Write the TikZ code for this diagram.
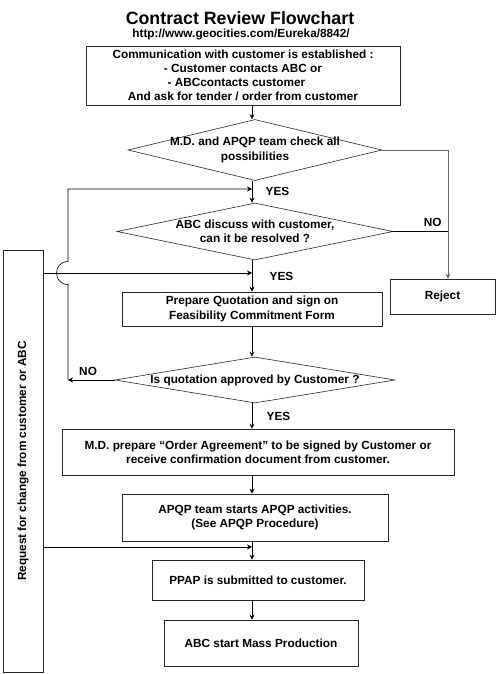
\documentclass[tikz,border=0pt]{standalone}
\usepackage{fontspec}
\setmainfont{Liberation Sans}
\usetikzlibrary{shapes.geometric,arrows.meta}

\begin{document}
\begin{tikzpicture}[x=1pt,y=-1pt,
  every node/.style={font=\fontsize{11.8}{14.2}\selectfont\bfseries},
  box/.style={draw=black!85,line width=0.6pt,align=center,inner sep=0pt},
  decision/.style={draw=black!85,line width=0.6pt,diamond,inner sep=0pt},
  arr/.style={-{Stealth[length=5pt,width=5pt]},line width=0.6pt},
  line/.style={line width=0.6pt,black!60}]
\useasboundingbox (0,0) rectangle (498,674);
% title
\node[font=\fontsize{17.8}{20}\selectfont\bfseries] (title) at (240,18) {Contract Review Flowchart};
\node (url) at (241,34) {http://www.geocities.com/Eureka/8842/};
% boxes and decisions
\node[box,minimum width=314pt,minimum height=59pt] (comm) at (243,75.5)
  {Communication with customer is established :\\- Customer contacts ABC or\\- ABCcontacts customer\hphantom{xx}\\And ask for tender / order from customer};
\node[decision,minimum width=254pt,minimum height=61pt,
  label={[align=center]center:{M.D. and APQP team check all\\possibilities}}] (d1) at (255,150) {};
\node[decision,minimum width=276pt,minimum height=57pt,
  label={[align=center]center:{ABC discuss with customer,\\can it be resolved ?}}] (d2) at (255,231.5) {};
\node[box,minimum width=260pt,minimum height=34pt] (quote) at (252,309)
  {Prepare Quotation and sign on\\Feasibility Commitment Form};
\node[decision,minimum width=280pt,minimum height=46pt,
  label={center:Is quotation approved by Customer ?}] (d3) at (255,380) {};
\node[box,minimum width=392pt,minimum height=46pt] (order) at (258,452)
  {M.D. prepare ``Order Agreement'' to be signed by Customer or\\receive confirmation document from customer.};
\node[box,minimum width=266pt,minimum height=47pt] (apqp) at (255,517.5)
  {APQP team starts APQP activities.\\(See APQP Procedure)};
\node[box,minimum width=212pt,minimum height=40pt] (ppap) at (258,580) {PPAP is submitted to customer.};
\node[box,minimum width=194pt,minimum height=46pt] (mass) at (261,643) {ABC start Mass Production};
\node[box,minimum width=105pt,minimum height=35pt] (rej) at (442.5,296.5) {Reject};
\node[box,minimum width=40pt,minimum height=422pt,
  label={[rotate=90]center:Request for change from customer or ABC}] (req) at (23,461) {};
% helper points
\coordinate (spine) at (252,0);
\coordinate (nox) at (448,0);
\coordinate (loopx) at (68,0);
\coordinate (j1) at (252,189);
\coordinate (j2) at (252,273);
\coordinate (j3) at (252,547);
\coordinate (hop) at (68,273);
% main flow
\draw[arr] (comm.south -| spine) -- (d1.north -| spine);
\draw[arr] (d1.south -| spine) -- node[right=10pt] {YES} (d2.north -| spine);
\draw[arr] (d2.south -| spine) -- node[right=14pt] {YES} (quote.north -| spine);
\draw[arr] (quote.south -| spine) -- (d3.north -| spine);
\draw[arr] (d3.south -| spine) -- node[right=11pt] {YES} (order.north -| spine);
\draw[arr] (order.south -| spine) -- (apqp.north -| spine);
\draw[arr] (apqp.south -| spine) -- (ppap.north -| spine);
\draw[arr] (ppap.south -| spine) -- (mass.north -| spine);
% NO to reject
\draw[line] (d1.east) -- (d1.east -| nox);
\draw[arr,line] (d1.east -| nox) -- (rej.north -| nox);
\draw[line width=0.6pt] (d2.east) -- node[pos=0.72,above=1pt] {NO} (d2.east -| nox);
% NO back to discussion
\draw[arr] (d3.west) -- node[pos=0.57,above=1pt] {NO} (d3.west -| loopx);
\draw[arr] (d3.west -| loopx) -- ([yshift=-11.5pt]hop)
  .. controls +(-15.3pt,0pt) and +(-15.3pt,0pt) .. ([yshift=11.5pt]hop)
  -- (loopx |- j1) -- (j1);
% requests for change
\draw[arr] (req.east |- j2) -- (j2);
\draw[arr] (req.east |- j3) -- (j3);
\end{tikzpicture}
\end{document}
